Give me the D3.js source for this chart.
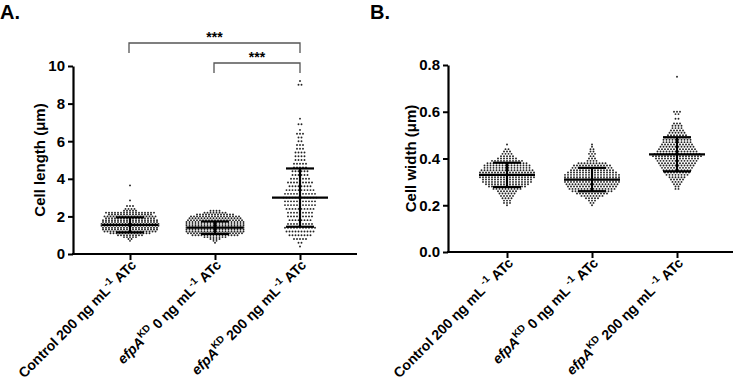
<!DOCTYPE html>
<html>
<head>
<meta charset="utf-8">
<script src="https://cdn.jsdelivr.net/npm/d3@7"></script>
<style>
body { margin: 0; background: #fff; }
text { font-family: "Liberation Sans", Arial, sans-serif; font-weight: bold; fill: #000; }
</style>
</head>
<body>
<div id="chart"></div>
<script>
// groups (x categories)
var groups = ["control200", "efpA0", "efpA200"];
var doses = ["200", "0", "200"];

// beeswarm rows: [value, number of dots in the row]
var lengthControl = [[3.65,1],[2.85,1],[2.55,3],[2.4,4],[2.3,5],[2.2,17],[2.1,15],[2.0,18],[1.9,17],[1.8,19],[1.7,19],[1.6,20],[1.5,20],[1.4,19],[1.3,19],[1.2,18],[1.1,14],[1.0,9],[0.9,5],[0.8,2],[0.7,1]];
var lengthKD0 = [[2.3,4],[2.2,8],[2.1,13],[2.0,17],[1.9,18],[1.8,19],[1.7,20],[1.6,20],[1.5,20],[1.4,20],[1.3,20],[1.2,20],[1.1,19],[1.0,16],[0.9,8],[0.8,4],[0.7,2],[0.6,1]];
var lengthKD200 = [[9.2,1],[9.0,2],[7.2,1],[6.9,2],[6.6,1],[6.4,3],[6.2,2],[6.0,2],[5.8,3],[5.6,3],[5.4,4],[5.2,4],[5.0,4],[4.8,5],[4.6,5],[4.4,6],[4.2,6],[4.0,7],[3.8,9],[3.6,8],[3.4,10],[3.2,11],[3.0,12],[2.8,11],[2.6,11],[2.4,10],[2.2,9],[2.0,9],[1.8,8],[1.6,9],[1.4,11],[1.2,10],[1.0,8],[0.8,5],[0.6,2],[0.4,1]];

var widthControl = [[0.46,1],[0.44,2],[0.43,3],[0.42,4],[0.41,5],[0.40,7],[0.39,11],[0.38,14],[0.37,16],[0.36,16],[0.35,18],[0.34,19],[0.33,19],[0.32,19],[0.31,17],[0.30,17],[0.29,15],[0.28,13],[0.27,10],[0.26,7],[0.25,6],[0.24,5],[0.23,4],[0.22,3],[0.21,3],[0.20,1]];
var widthKD0 = [[0.46,1],[0.45,1],[0.44,2],[0.43,2],[0.42,3],[0.41,2],[0.40,3],[0.39,4],[0.38,10],[0.37,13],[0.36,14],[0.35,15],[0.34,17],[0.33,19],[0.32,19],[0.31,19],[0.30,19],[0.29,18],[0.28,17],[0.27,16],[0.26,14],[0.25,11],[0.24,8],[0.23,5],[0.22,3],[0.21,2],[0.20,1]];
var widthKD200 = [[0.75,1],[0.60,3],[0.59,2],[0.57,2],[0.55,3],[0.54,4],[0.53,4],[0.52,5],[0.51,6],[0.50,7],[0.49,9],[0.48,10],[0.47,10],[0.46,11],[0.45,12],[0.44,13],[0.43,14],[0.42,16],[0.41,17],[0.40,15],[0.39,14],[0.38,13],[0.37,12],[0.36,11],[0.35,10],[0.34,9],[0.33,8],[0.32,6],[0.31,5],[0.30,4],[0.29,3],[0.28,2],[0.27,2]];

// mean and SD bars
var lengthMean = [1.55, 1.4, 3.0];
var lengthSD = [0.4, 0.33, 1.55];
var widthMean = [0.33, 0.31, 0.418];
var widthSD = [0.052, 0.05, 0.073];

var lengthTicks = [0, 2, 4, 6, 8, 10];
var widthTicks = [0, 0.2, 0.4, 0.6, 0.8];

// significance brackets (panel A)
var sigPairs = [[0, 2], [1, 2]];
var sigLabels = ["***", "***"];

var svg = d3.select("#chart").append("svg")
    .attr("width", 733)
    .attr("height", 386);

function drawPanel(p) {
    var g = svg.append("g");
    var y = d3.scaleLinear().domain(p.domain).range([p.y0, p.y1]);
    var x = d3.scalePoint().domain(groups).range(p.xRange);

    // dots
    p.rows.forEach(function(rows, gi) {
        var dots = [];
        rows.forEach(function(r) {
            for (var i = 0; i < r[1]; i++) {
                dots.push({v: r[0], off: (i - (r[1] - 1) / 2) * 3});
            }
        });
        g.append("g").selectAll("circle")
            .data(dots)
            .enter()
            .append("circle")
            .attr("cx", d => x(groups[gi]) + d.off)
            .attr("cy", d => y(d.v))
            .attr("r", 0.95)
            .attr("fill", "#222");
    });

    // mean +/- SD
    groups.forEach(function(gr, gi) {
        var cx = x(gr), m = p.mean[gi], s = p.sd[gi];
        g.append("line").attr("x1", cx).attr("x2", cx)
            .attr("y1", y(m - s)).attr("y2", y(m + s))
            .attr("stroke", "#000").attr("stroke-width", 2.2);
        g.append("line").attr("x1", cx - 28).attr("x2", cx + 28)
            .attr("y1", y(m)).attr("y2", y(m))
            .attr("stroke", "#000").attr("stroke-width", 2.2);
        [m - s, m + s].forEach(function(v) {
            g.append("line").attr("x1", cx - 14).attr("x2", cx + 14)
                .attr("y1", y(v)).attr("y2", y(v))
                .attr("stroke", "#000").attr("stroke-width", 2.2);
        });
    });

    // y axis
    var yAxis = d3.axisLeft(y).tickValues(p.ticks).tickSize(5).tickSizeOuter(0).tickPadding(3)
        .tickFormat(p.fmt);
    var ya = g.append("g").attr("transform", `translate(${p.axisX},0)`).call(yAxis);
    ya.select(".domain").attr("stroke-width", 2.2);
    ya.selectAll(".tick line").attr("stroke-width", 2);
    ya.selectAll("text").style("font-size", "15px");

    // x axis
    g.append("line").attr("x1", p.axisX - 1).attr("x2", p.xEnd)
        .attr("y1", p.y0).attr("y2", p.y0)
        .attr("stroke", "#000").attr("stroke-width", 2.2);
    var xAxis = d3.axisBottom(x).tickSize(6).tickSizeOuter(0).tickFormat("");
    var xa = g.append("g").attr("transform", `translate(0,${p.y0})`).call(xAxis);
    xa.select(".domain").remove();
    xa.selectAll(".tick line").attr("stroke-width", 2);

    // category labels
    groups.forEach(function(gr, gi) {
        var t = g.append("text")
            .attr("transform", `translate(${x(gr) + 7},${p.y0 + 12}) rotate(-45)`)
            .attr("text-anchor", "end")
            .style("font-size", "14px");
        if (gi === 0) {
            t.append("tspan").text("Control " + doses[gi] + " \u03B7g mL");
        } else {
            t.append("tspan").style("font-style", "italic").text("efpA");
            t.append("tspan").attr("dy", -6).style("font-size", "10px").text("KD");
            t.append("tspan").attr("dy", 6).text(" " + doses[gi] + " \u03B7g mL");
        }
        t.append("tspan").attr("dy", -6).style("font-size", "10px").text(p.supSpace + "-1");
        t.append("tspan").attr("dy", 6).text(p.supSpace + " ATc");
    });

    // axis title
    g.append("text")
        .attr("transform", `translate(${p.titleX},${(p.y0 + p.y1) / 2}) rotate(-90)`)
        .attr("text-anchor", "middle")
        .style("font-size", "15px")
        .text(p.title);

    // panel letter
    g.append("text").attr("x", p.letterX).attr("y", 19)
        .style("font-size", "20px").text(p.letter);

    return {x: x, y: y, g: g};
}

var panelA = drawPanel({
    rows: [lengthControl, lengthKD0, lengthKD200],
    mean: lengthMean, sd: lengthSD,
    domain: [0, 10], ticks: lengthTicks, fmt: d3.format("d"),
    y0: 254, y1: 66, axisX: 73, xEnd: 357, xRange: [130, 300],
    title: "Cell length (\u03BCm)", titleX: 45, letter: "A.", letterX: 0, supSpace: ""
});

drawPanel({
    rows: [widthControl, widthKD0, widthKD200],
    mean: widthMean, sd: widthSD,
    domain: [0, 0.8], ticks: widthTicks, fmt: d3.format(".1f"),
    y0: 252, y1: 65, axisX: 448, xEnd: 733, xRange: [507, 677],
    title: "Cell width (\u03BCm)", titleX: 416, letter: "B.", letterX: 370, supSpace: " "
});

// significance brackets on panel A
var bracketY = [43, 63];
sigPairs.forEach(function(pair, i) {
    var x1 = panelA.x(groups[pair[0]]) - 1, x2 = panelA.x(groups[pair[1]]);
    var by = bracketY[i];
    panelA.g.append("path")
        .attr("d", `M${x1},${by + 10}V${by}H${x2}V${by + 10}`)
        .attr("fill", "none").attr("stroke", "#555").attr("stroke-width", 1.3);
    panelA.g.append("text")
        .attr("x", (x1 + x2) / 2).attr("y", by - 1)
        .attr("text-anchor", "middle")
        .style("font-size", "14px")
        .text(sigLabels[i]);
});
</script>
</body>
</html>
